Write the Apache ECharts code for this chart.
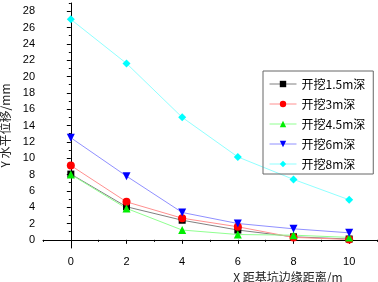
<!DOCTYPE html>
<html>
<head>
<meta charset="utf-8">
<script src="https://cdn.jsdelivr.net/npm/echarts@6/dist/echarts.min.js"></script>
<style>
  html, body { margin: 0; padding: 0; background: #fff; }
  #LineChart { width: 378px; height: 282px; }
</style>
</head>
<body>
<div id="LineChart"></div>
<script>
// distance from pit edge (m)
const xData = [0, 2, 4, 6, 8, 10];
const seriesNames = ["开挖1.5m深", "开挖3m深", "开挖4.5m深", "开挖6m深", "开挖8m深"];
const dig15 = [8.05, 4.05, 2.4, 1.2, 0.37, 0.1];
const dig3 = [9.1, 4.65, 2.65, 1.6, 0.3, 0.05];
const dig45 = [8.0, 3.85, 1.2, 0.65, 0.57, 0.3];
const dig6 = [12.5, 7.8, 3.35, 2.0, 1.35, 0.86];
const dig8 = [27.0, 21.6, 15.0, 10.15, 7.4, 4.9];
const xMajor = [0, 2, 4, 6, 8, 10];
const xMinor = [-1, 1, 3, 5, 7, 9, 11];
const yMajor = [0, 2, 4, 6, 8, 10, 12, 14, 16, 18, 20, 22, 24, 26, 28];
const yMinor = [1, 3, 5, 7, 9, 11, 13, 15, 17, 19, 21, 23, 25, 27, 29];

const allData = [dig15, dig3, dig45, dig6, dig8];
const markColors = ["#000000", "#ff0000", "#00ee00", "#0000ff", "#00ffff"];
const lineColors = ["#808080", "#ff9090", "#90ff90", "#9090ff", "#90ffff"];
const symbols = ["rect", "circle", "triangle", "triangle", "diamond"];
const rotates = [0, 0, 0, 180, 0];
const sizes = [7, 8, 8, 8, 8];

const chart = echarts.init(document.getElementById("LineChart"));
const tickFont = { fontFamily: "Liberation Sans", fontSize: 11, color: "#000" };
const axisLine = { show: true, lineStyle: { color: "#000", width: 1 } };

const series = allData.map((d, i) => ({
  name: seriesNames[i],
  type: "line",
  data: xData.map((x, j) => [x, d[j]]),
  symbol: symbols[i],
  symbolRotate: rotates[i],
  symbolSize: sizes[i],
  itemStyle: { color: markColors[i] },
  lineStyle: { color: lineColors[i], width: 1 },
  animation: false
}));

const option = {
  backgroundColor: "#fff",
  grid: { left: 43, top: 3, right: 1, bottom: 34, outerBoundsMode: "none", containLabel: false },
  legend: {
    orient: "vertical",
    left: 263,
    top: 71,
    padding: [7, 8, 4, 6],
    itemGap: 8,
    itemWidth: 27,
    itemHeight: 8,
    borderColor: "#666",
    borderWidth: 1,
    textStyle: { fontFamily: "Noto Sans CJK SC", fontSize: 12, color: "#000" },
    data: seriesNames.map((n, i) => ({ name: n, lineStyle: { color: lineColors[i], width: 1 } }))
  },
  xAxis: [
    {
      type: "value",
      min: -1,
      max: 11,
      axisLine: axisLine,
      splitLine: { show: false },
      axisTick: { show: true, length: 4, customValues: xMajor, lineStyle: { color: "#000" } },
      axisLabel: { customValues: xMajor, margin: 8, ...tickFont },
      name: "X 距基坑边缘距离/m",
      nameLocation: "middle",
      nameGap: 19,
      nameTextStyle: { fontFamily: "Noto Sans CJK SC", fontSize: 12, color: "#222", padding: [0, 0, 0, 156] }
    },
    {
      type: "value",
      min: -1,
      max: 11,
      position: "bottom",
      axisLine: { show: false },
      splitLine: { show: false },
      axisTick: { show: true, length: 2, customValues: xMinor, lineStyle: { color: "#000" } },
      axisLabel: { show: false }
    }
  ],
  yAxis: [
    {
      type: "value",
      min: -1,
      max: 29,
      axisLine: axisLine,
      splitLine: { show: false },
      axisTick: { show: true, length: 4, customValues: yMajor, lineStyle: { color: "#000" } },
      axisLabel: { customValues: yMajor, margin: 8, ...tickFont },
      name: "Y 水平位移/mm",
      nameLocation: "middle",
      nameGap: 24,
      nameTextStyle: { fontFamily: "Noto Sans CJK SC", fontSize: 12, color: "#222" }
    },
    {
      type: "value",
      min: -1,
      max: 29,
      position: "left",
      axisLine: { show: false },
      splitLine: { show: false },
      axisTick: { show: true, length: 2, customValues: yMinor, lineStyle: { color: "#000" } },
      axisLabel: { show: false }
    }
  ],
  series: series
};
chart.setOption(option);
</script>
</body>
</html>
